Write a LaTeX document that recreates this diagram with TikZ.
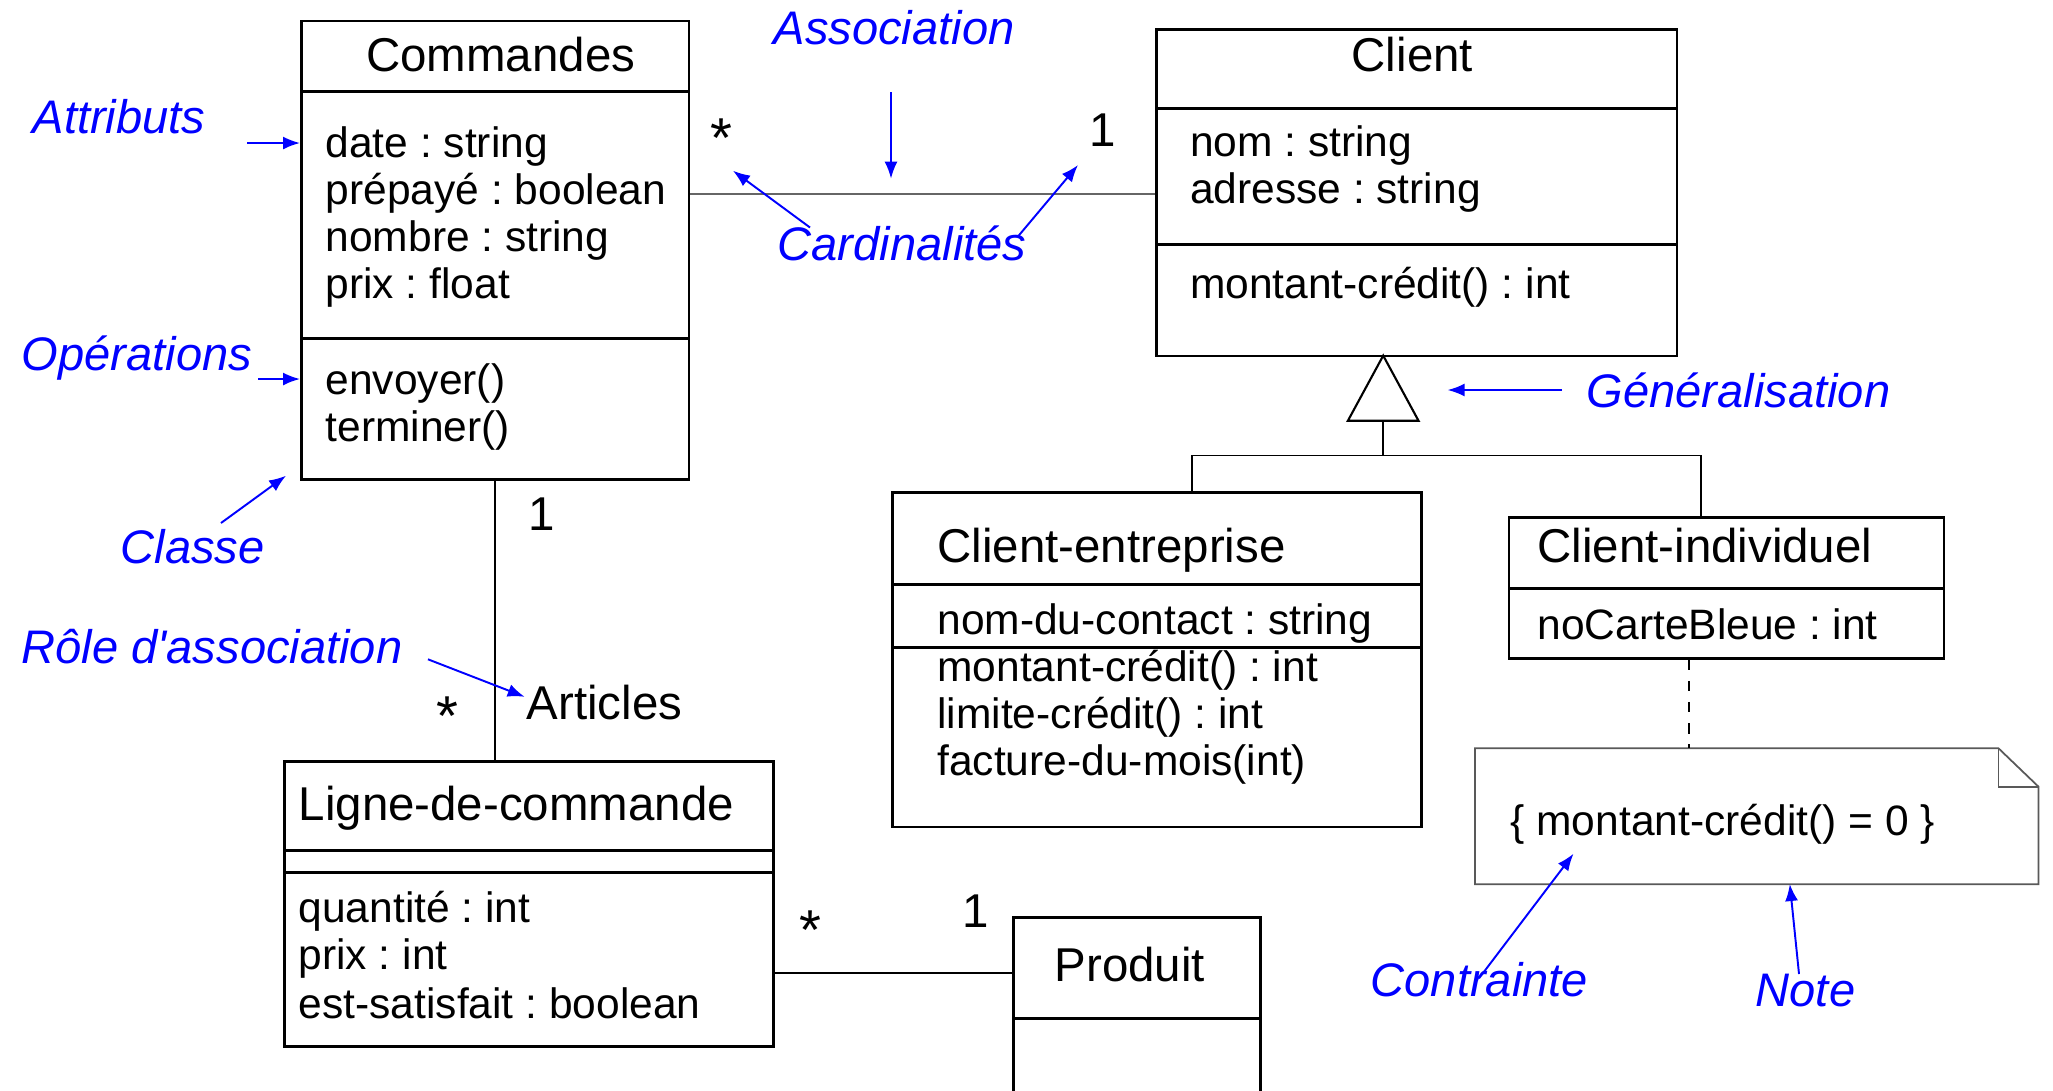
\documentclass[tikz,border=0pt]{standalone}
\usepackage{fontspec}
\setmainfont{Liberation Sans}
\usetikzlibrary{arrows.meta}
\frenchspacing

\begin{document}
\begin{tikzpicture}
\tikzstyle{every node}+=[inner sep=0pt]
\tikzstyle{part}=[draw=black, line width=0.8pt, anchor=north west]
\tikzstyle{clsname}=[anchor=base west, font=\fontsize{13.5}{16}\selectfont]
\tikzstyle{member}=[anchor=base west, font=\fontsize{12.1}{14}\selectfont]
\tikzstyle{star}=[anchor=base west, font=\fontsize{16}{18}\selectfont]
\tikzstyle{remark}=[anchor=base west, text=blue, font=\fontsize{13.4}{16}\selectfont\itshape]
\tikzstyle{hint}=[draw=blue, line width=0.55pt, -{Latex[length=1.7mm,width=1.3mm]}]
\tikzstyle{assoc}=[line width=0.5pt]
\tikzstyle{notebox}=[draw=black!65, line width=0.5pt]
\useasboundingbox (0,0) rectangle (20.53,-10.90);
% Commandes
\node[part, minimum width=3.875cm, minimum height=0.704cm] (cmdName) at (3.00,-0.196) {};
\node[part, minimum width=3.875cm, minimum height=2.468cm] (cmdAttr) at (3.00,-0.90) {};
\node[part, minimum width=3.875cm, minimum height=1.411cm] (cmdOps) at (3.00,-3.368) {};
\node[clsname] (cmdTitle) at (3.655,-0.71) {Commandes};
\node[member] (cmdDate) at (3.25,-1.57) {date : string};
\node[member] (cmdPrepaye) at (3.25,-2.045) {prépayé : boolean};
\node[member] (cmdNombre) at (3.25,-2.515) {nombre : string};
\node[member] (cmdPrix) at (3.25,-2.98) {prix : float};
\node[member] (cmdEnvoyer) at (3.25,-3.946) {envoyer()};
\node[member] (cmdTerminer) at (3.25,-4.418) {terminer()};
% Client
\node[part, minimum width=5.203cm, minimum height=0.791cm] (cliName) at (11.553,-0.279) {};
\node[part, minimum width=5.203cm, minimum height=1.36cm] (cliAttr) at (11.553,-1.07) {};
\node[part, minimum width=5.203cm, minimum height=1.116cm] (cliOps) at (11.553,-2.43) {};
\node[clsname] (cliTitle) at (13.51,-0.714) {Client};
\node[member] (cliNom) at (11.893,-1.56) {nom : string};
\node[member] (cliAdresse) at (11.893,-2.036) {adresse : string};
\node[member] (cliCredit) at (11.893,-2.98) {montant-crédit() : int};
% Client-entreprise
\node[part, minimum width=5.293cm, minimum height=0.924cm] (entName) at (8.907,-4.909) {};
\node[part, minimum width=5.293cm, minimum height=0.627cm] (entAttr) at (8.907,-5.833) {};
\node[part, minimum width=5.293cm, minimum height=1.796cm] (entOps) at (8.907,-6.46) {};
\node[clsname] (entTitle) at (9.367,-5.624) {Client-entreprise};
\node[member] (entContact) at (9.367,-6.348) {nom-du-contact : string};
\node[member] (entCredit) at (9.367,-6.81) {montant-crédit() : int};
\node[member] (entLimite) at (9.367,-7.284) {limite-crédit() : int};
\node[member] (entFacture) at (9.367,-7.754) {facture-du-mois(int)};
% Client-individuel
\node[part, minimum width=4.35cm, minimum height=0.712cm] (indName) at (15.075,-5.162) {};
\node[part, minimum width=4.35cm, minimum height=0.695cm] (indAttr) at (15.075,-5.874) {};
\node[clsname] (indTitle) at (15.367,-5.624) {Client-individuel};
\node[member] (indCarte) at (15.367,-6.395) {noCarteBleue : int};
% Ligne-de-commande
\node[part, minimum width=4.89cm, minimum height=0.884cm] (ligName) at (2.827,-7.603) {};
\node[part, minimum width=4.89cm, minimum height=0.221cm] (ligMid) at (2.827,-8.487) {};
\node[part, minimum width=4.89cm, minimum height=1.742cm] (ligBody) at (2.827,-8.708) {};
\node[clsname] (ligTitle) at (2.98,-8.206) {Ligne-de-commande};
\node[member] (ligQuantite) at (2.98,-9.223) {quantité : int};
\node[member] (ligPrix) at (2.98,-9.697) {prix : int};
\node[member] (ligSatisfait) at (2.98,-10.188) {est-satisfait : boolean};
% Produit
\node[part, minimum width=2.47cm, minimum height=1.007cm] (prodName) at (10.123,-9.16) {};
\node[part, minimum width=2.47cm, minimum height=1.2cm] (prodBody) at (10.123,-10.167) {};
\node[clsname] (prodTitle) at (10.54,-9.81) {Produit};
% note
\draw[notebox] (14.75,-7.483) -- (19.985,-7.483) -- (20.384,-7.866) -- (20.384,-8.843) -- (14.75,-8.843) -- cycle;
\draw[notebox] (19.985,-7.483) |- (20.384,-7.866);
\coordinate (noteTop) at (16.886,-7.483);
\node[member] (noteText) at (15.098,-8.356) {\{ montant-crédit() = 0 \}};
\draw[notebox, dashed, draw=black] (noteTop |- indAttr.south) -- (noteTop);
% associations
\draw[assoc, black!60] (cmdAttr.east |- 0,-1.94) -- (cliAttr.west |- 0,-1.94);
\draw[assoc] (cmdOps.south) -- (cmdOps.south |- ligName.north);
\draw[assoc] (ligBody.east |- 0,-9.732) -- (prodName.west |- 0,-9.732);
\node[star] (multCmd) at (7.10,-1.57) {*};
\node[clsname] (multCli) at (10.89,-1.46) {1};
\node[clsname] (multCmdLig) at (5.28,-5.30) {1};
\node[star] (multLig) at (4.36,-7.35) {*};
\node[star] (multLigProd) at (7.99,-9.49) {*};
\node[clsname] (multProd) at (9.62,-9.27) {1};
\node[clsname] (role) at (5.26,-7.19) {Articles};
% generalisation
\coordinate (genTip) at (13.832,-3.556);
\coordinate (genBase) at (13.832,-4.207);
\coordinate (genFork) at (13.832,-4.554);
\draw[line width=0.6pt] (genTip) -- ([xshift=3.53mm]genBase) -- ([xshift=-3.53mm]genBase) -- cycle;
\draw[assoc] (genBase) -- (genFork);
\draw[assoc] (entName.north -| 11.92,0) |- (genFork) -| (indName.north -| 17.01,0);
% remarks
\node[remark] (lblAssoc) at (7.73,-0.446) {Association};
\node[remark] (lblAttr) at (0.32,-1.33) {Attributs};
\node[remark] (lblCard) at (7.77,-2.607) {Cardinalités};
\node[remark] (lblOps) at (0.21,-3.70) {Opérations};
\node[remark] (lblClasse) at (1.20,-5.63) {Classe};
\node[remark] (lblGen) at (15.86,-4.07) {Généralisation};
\node[remark] (lblRole) at (0.21,-6.63) {Rôle d\textquotesingle association};
\node[remark] (lblContr) at (13.70,-9.964) {Contrainte};
\node[remark] (lblNote) at (17.55,-10.064) {Note};
\coordinate (assocTail) at (8.91,-0.92);
\coordinate (assocHead) at (8.91,-1.786);
\coordinate (cardTailA) at (8.10,-2.275);
\coordinate (cardHeadA) at (7.33,-1.707);
\coordinate (cardTailB) at (10.186,-2.357);
\coordinate (cardHeadB) at (10.78,-1.65);
\coordinate (attrTail) at (2.47,-1.43);
\coordinate (opsTail) at (2.58,-3.79);
\coordinate (classeTail) at (2.21,-5.23);
\coordinate (classeHead) at (2.86,-4.757);
\coordinate (genTail) at (15.62,-3.90);
\coordinate (genHead) at (14.476,-3.90);
\coordinate (roleTail) at (4.28,-6.593);
\coordinate (roleHead) at (5.247,-6.968);
\coordinate (contrTail) at (14.79,-9.783);
\coordinate (contrHead) at (15.735,-8.537);
\coordinate (noteTail) at (17.99,-9.74);
\coordinate (noteHead) at (17.898,-8.84);
\draw[hint] (assocTail) -- (assocHead);
\draw[hint] (cardTailA) -- (cardHeadA);
\draw[hint] (cardTailB) -- (cardHeadB);
\draw[hint] (attrTail) -- (cmdAttr.west |- attrTail);
\draw[hint] (opsTail) -- (cmdOps.west |- opsTail);
\draw[hint] (classeTail) -- (classeHead);
\draw[hint] (genTail) -- (genHead);
\draw[hint] (roleTail) -- (roleHead);
\draw[hint] (contrTail) -- (contrHead);
\draw[hint] (noteTail) -- (noteHead);
\end{tikzpicture}
\end{document}
